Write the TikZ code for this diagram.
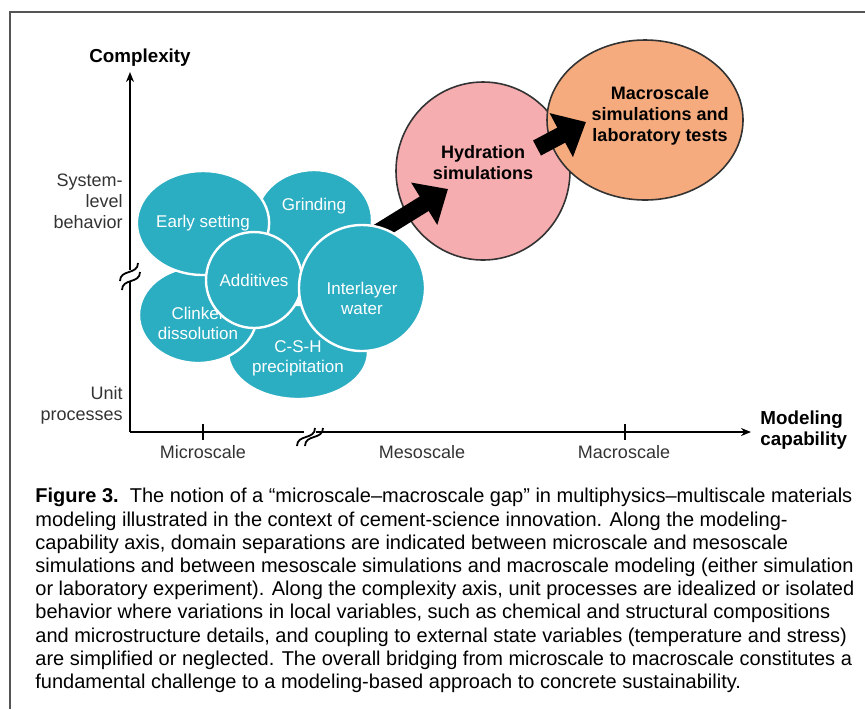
\documentclass[tikz,border=0pt]{standalone}
\usepackage{fontspec}
\setmainfont{Liberation Sans}
\usetikzlibrary{shapes.geometric, arrows.meta, positioning}

\definecolor{blobteal}{HTML}{2BADC2}
\definecolor{hydpink}{HTML}{F6ADB0}
\definecolor{macroorange}{HTML}{F6AB7E}
\definecolor{labelgray}{HTML}{333333}
\definecolor{framegray}{HTML}{555555}

\begin{document}
\begin{tikzpicture}[x=0.5pt, y=-0.5pt, >=Stealth,
    blob/.style={ellipse, fill=blobteal, draw=white, line width=1.2pt, text=white,
        font=\fontsize{8.5}{10}\selectfont, align=center, inner sep=0pt},
    blobtext/.style={text=white, font=\fontsize{8.5}{10}\selectfont, align=center, inner sep=0pt},
    simblob/.style={ellipse, draw=black!80, line width=0.8pt, inner sep=0pt},
    simtext/.style={font=\bfseries\fontsize{9}{10.5}\selectfont, align=center, inner sep=0pt},
    axislabel/.style={font=\fontsize{9}{10.5}\selectfont, text=labelgray, inner sep=0pt},
    axistitle/.style={font=\bfseries\fontsize{9.4}{10.5}\selectfont, inner sep=0pt},
    axisline/.style={line width=0.9pt, -{Stealth[length=5pt, width=4pt]}},
    bigarrow/.style={line width=8.5pt, -{Triangle[length=14pt, width=24pt]}},
    breakmark/.style={line width=0.9pt},
]
\useasboundingbox (0,0) rectangle (865,709);

% Frame
\draw[framegray, line width=1pt] (865,12) -- (10,12) -- (10,709);

% Axes
\coordinate (origin) at (130,432);
\coordinate (ytop) at (130,72);
\coordinate (xend) at (751,432);
\draw[axisline] (origin) -- (ytop);
\draw[axisline] (origin) -- (xend);
\node[axistitle] (complexity) at (140,58) {Complexity};
\node[axistitle, align=left, anchor=west] (capability) at (760,430) {Modeling\\capability};

% Ticks
\coordinate (microtick) at (203,432);
\coordinate (macrotick) at (625,432);
\draw[line width=0.8pt] ([yshift=4pt]microtick) -- ([yshift=-4pt]microtick);
\draw[line width=0.8pt] ([yshift=4pt]macrotick) -- ([yshift=-4pt]macrotick);

% Axis breaks
\draw[white, line width=2pt] (130,270) -- (130,282);
\draw[breakmark] (120,281) .. controls (120,269) and (138,275) .. (138,263);
\draw[breakmark] (122,290) .. controls (122,278) and (140,284) .. (140,272);
\draw[white, line width=2pt] (304,432) -- (316,432);
\draw[breakmark] (297,446) .. controls (297,434) and (315,440) .. (315,428);
\draw[breakmark] (305,446) .. controls (305,434) and (323,440) .. (323,428);

% Axis labels
\node[axislabel, align=right, anchor=east] (system) at (123,201) {System-\\level\\behavior};
\node[axislabel, align=right, anchor=east] (unit) at (123,405) {Unit\\processes};
\node[axislabel] (micro) at (203,452) {Microscale};
\node[axislabel] (meso) at (422,452) {Mesoscale};
\node[axislabel] (macro) at (624,452) {Macroscale};

% Simulation ellipses
\node[simblob, fill=hydpink, minimum width=87pt, minimum height=89pt,
    label={[simtext, yshift=4pt]center:Hydration\\simulations}] (hyd) at (483,171) {};
\node[simblob, fill=macroorange, minimum width=98pt, minimum height=80pt,
    label={[simtext, xshift=7.5pt, yshift=2pt]center:Macroscale\\simulations and\\laboratory tests}] (macrosim) at (645,120) {};

% Big arrows
\coordinate (a1tail) at (372,236);
\coordinate (a1tip) at (448,189);
\coordinate (a2tail) at (537,148);
\coordinate (a2tip) at (586,122);
\draw[bigarrow] (a1tail) -- (a1tip);
\draw[bigarrow] (a2tail) -- (a2tip);

% Unit process blobs
\node[blob, minimum width=70pt, minimum height=47pt,
    label={[blobtext, yshift=-3pt]center:C-S-H\\precipitation}] (csh) at (298,352) {};
\node[blob, minimum width=59pt, minimum height=48pt,
    label={[blobtext, yshift=-4pt]center:Clinker\\dissolution}] (clinker) at (198,315) {};
\node[blob, minimum width=58pt, minimum height=50pt,
    label={[blobtext, yshift=7pt]center:Grinding}] (grinding) at (314,220) {};
\node[blob, minimum width=61pt, minimum height=52pt] (early) at (203,223) {Early setting};
\node[blob, circle, minimum size=48pt] (additives) at (254,280) {Additives};
\node[blob, circle, minimum size=63pt,
    label={[blobtext, yshift=-5pt]center:Interlayer\\water}] (interlayer) at (362,288) {};

% Caption
\node[anchor=north west, align=left, inner sep=0pt, font=\fontsize{10}{11.6}\selectfont] (caption) at (35,488)
{\textbf{Figure 3.}\ \ The notion of a “microscale–macroscale gap” in multiphysics–multiscale materials\\
modeling illustrated in the context of cement-science innovation. Along the modeling-\\
capability axis, domain separations are indicated between microscale and mesoscale\\
simulations and between mesoscale simulations and macroscale modeling (either simulation\\
or laboratory experiment). Along the complexity axis, unit processes are idealized or isolated\\
behavior where variations in local variables, such as chemical and structural compositions\\
and microstructure details, and coupling to external state variables (temperature and stress)\\
are simplified or neglected. The overall bridging from microscale to macroscale constitutes a\\
fundamental challenge to a modeling-based approach to concrete sustainability.};

\end{tikzpicture}
\end{document}
